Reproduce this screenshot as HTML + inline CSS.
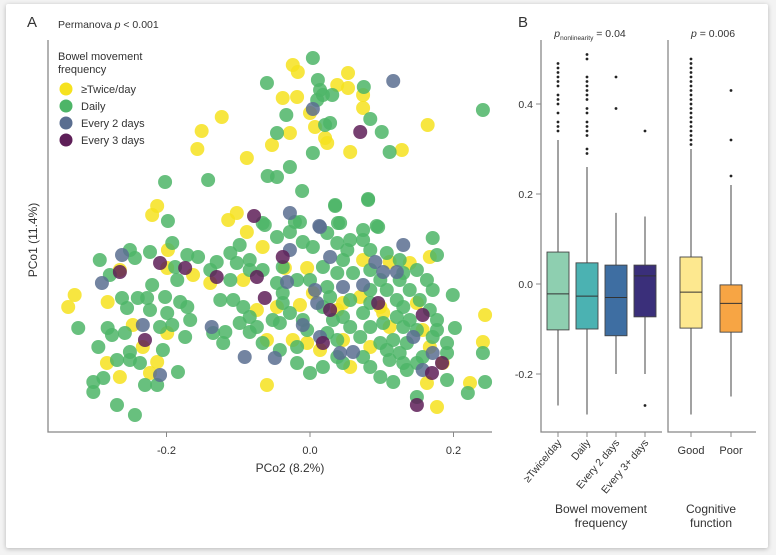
<!DOCTYPE html>
<html><head><meta charset="utf-8"><style>
html,body{margin:0;padding:0;background:#f3f3f3;}
#card{position:absolute;left:6px;top:4px;width:762px;height:544px;background:#fff;box-shadow:0 1px 5px rgba(0,0,0,0.25);border-radius:2px;}
svg{position:absolute;left:0;top:0;}
text{font-family:"Liberation Sans",sans-serif;fill:#333;}
</style></head><body>
<div id="card"></div>
<svg id="fig" width="776" height="555"></svg>
<script>
// ---------- Panel A data (PCo2, PCo1) ----------
const twiceX=[-0.024,-0.017,0.053,0.038,0.053,0.074,0.074,-0.038,-0.018,0,0.007,-0.028,0.021,0.024,-0.053,0.056,0.128,0.164,-0.123,-0.151,-0.157,-0.088,-0.213,-0.220,-0.114,-0.102,-0.088,-0.328,-0.337,-0.282,-0.265,-0.198,-0.163,-0.199,-0.139,-0.093,-0.066,-0.035,-0.004,-0.074,-0.046,-0.014,0.004,0.038,0.046,0.070,0.098,0.102,0.074,0.111,0.139,0.149,0.157,0.167,0.185,0.223,0.244,0.241,0.177,-0.060,-0.060,-0.004,0.014,0.046,0.056,0.084,0.111,0.163,-0.283,-0.265,-0.223,-0.213,-0.247,-0.199,-0.233,0.167,-0.024];
const twiceY=[0.225,0.218,0.217,0.205,0.202,0.195,0.182,0.192,0.193,0.177,0.163,0.157,0.152,0.147,0.145,0.138,0.140,0.165,0.173,0.159,0.141,0.132,0.084,0.075,0.070,0.077,0.058,-0.005,-0.017,-0.012,0.020,0.040,0.015,0.022,0.007,0.010,0.043,0.022,0.022,-0.020,-0.017,-0.015,-0.003,-0.020,-0.013,-0.007,-0.017,-0.023,0.030,0.028,0.027,-0.013,-0.040,-0.057,-0.073,-0.093,-0.025,-0.052,-0.117,-0.050,-0.095,-0.053,-0.060,-0.050,-0.077,-0.057,-0.037,-0.093,-0.073,-0.087,-0.083,-0.072,-0.035,-0.043,-0.057,0.033,-0.050];
const dailyX=[0.004,-0.060,0.011,0.014,0.018,0.031,0.075,0.010,-0.033,0.021,0.028,0.084,0.100,-0.046,0.004,0.111,-0.028,-0.059,-0.046,-0.011,-0.142,-0.202,0.081,0.035,-0.198,-0.063,-0.021,0.039,0.093,0.241,
0.035,0.081,-0.293,-0.251,-0.244,-0.223,-0.192,-0.171,-0.156,-0.188,-0.185,-0.279,-0.220,-0.262,-0.240,-0.227,-0.202,-0.181,-0.255,-0.223,-0.199,-0.171,-0.167,-0.323,-0.282,-0.276,-0.258,-0.209,-0.192,-0.174,-0.295,-0.251,-0.205,-0.269,-0.251,-0.237,-0.184,-0.302,-0.288,-0.302,-0.230,-0.213,-0.269,-0.244,
-0.130,-0.111,-0.098,-0.084,-0.066,-0.046,-0.028,-0.014,-0.010,0.004,0.024,0.042,0.038,0.052,0.074,0.095,0.084,0.107,0.125,0.149,0.171,0.177,0.199,0.171,0.163,0.139,0.125,0.121,0.098,0.084,0.060,0.038,0.024,0,-0.018,-0.038,-0.046,-0.066,-0.084,-0.102,-0.111,-0.125,-0.107,-0.093,-0.084,-0.038,-0.028,-0.052,-0.042,-0.010,0.028,0.032,0.046,0.056,0.074,0.084,0.102,0.121,0.130,0.130,0.139,0.149,0.177,0.177,0.202,0.191,0.191,0.135,0.125,0.111,0.130,0.149,0.098,0.116,0.135,0.191,0.149,0.220,0.241,0.244,-0.018,0,0.018,-0.018,-0.042,0.038,0.070,0.098,-0.135,-0.121,-0.098,-0.084,-0.118,0.074,0.084,0.046,0.024,-0.004,0.046,0.018,0.084,0.107,0.084,0.056,0.018,0.056,0.074,0.130,0.153,0.167,0.171,0.157,0.116,0.107,0.038,-0.066,-0.074,-0.038,-0.139];
const dailyY=[0.232,0.207,0.210,0.200,0.195,0.195,0.203,0.190,0.175,0.165,0.167,0.171,0.158,0.157,0.137,0.138,0.123,0.114,0.113,0.099,0.110,0.108,0.091,0.084,0.069,0.065,0.068,0.067,0.064,0.180,
0.085,0.090,0.030,0.040,0.032,0.038,0.047,0.035,0.033,0.023,0.010,0.015,0.005,-0.008,-0.008,-0.008,-0.007,-0.012,-0.018,-0.020,-0.023,-0.017,-0.030,-0.038,-0.038,-0.045,-0.043,-0.037,-0.035,-0.047,-0.057,-0.062,-0.060,-0.070,-0.070,-0.073,-0.082,-0.092,-0.088,-0.102,-0.095,-0.095,-0.115,-0.125,
0.028,0.037,0.045,0.030,0.067,0.053,0.058,0.068,0.048,0.043,0.057,0.067,0.047,0.040,0.050,0.063,0.040,0.037,0.030,0.020,0.052,0.035,-0.005,0.000,0.010,0.000,0.010,-0.010,0.010,0.000,0.017,0.017,0.003,0.010,0.010,-0.003,0.007,0.020,0.020,0.027,0.010,-0.010,-0.010,-0.017,-0.027,-0.013,-0.023,-0.030,-0.033,-0.030,-0.007,-0.030,-0.027,-0.037,-0.023,-0.037,-0.033,-0.027,-0.017,-0.037,-0.030,-0.040,-0.030,-0.040,-0.038,-0.053,-0.063,-0.053,-0.063,-0.070,-0.073,-0.073,-0.087,-0.092,-0.080,-0.090,-0.107,-0.103,-0.063,-0.092,-0.073,-0.083,-0.077,-0.057,-0.060,-0.050,-0.047,-0.053,-0.043,-0.053,-0.033,-0.042,-0.042,-0.067,-0.077,-0.073,-0.043,-0.040,0.030,0.023,0.020,0.000,-0.013,-0.010,-0.017,0.050,0.060,0.017,-0.010,-0.020,-0.047,-0.067,-0.050,-0.060,-0.067,-0.053,-0.037,0.023,0.020];
const every2X=[0.116,0.004,-0.028,0.013,0.014,-0.262,-0.290,0.130,0.102,0.091,0.028,-0.028,-0.032,0.007,0.010,0.046,0.074,-0.010,0.014,-0.137,-0.091,-0.049,0.042,0.060,0.144,-0.209,-0.233,0.157,0.121,0.171];
const every2Y=[0.209,0.181,0.077,0.064,0.063,0.035,0.007,0.045,0.018,0.028,0.033,0.040,0.008,0.000,-0.013,0.003,0.005,-0.035,-0.047,-0.037,-0.067,-0.068,-0.063,-0.062,-0.047,-0.085,-0.035,-0.080,0.018,-0.063];
const every3X=[0.070,-0.078,-0.209,-0.265,-0.174,-0.074,-0.038,-0.063,-0.130,-0.230,0.028,0.095,0.157,0.018,0.170,0.149,0.184];
const every3Y=[0.158,0.074,0.027,0.018,0.022,0.013,0.033,-0.008,0.013,-0.050,-0.020,-0.013,-0.025,-0.053,-0.083,-0.115,-0.073];
const xTicksA=[-0.2,0.0,0.2];
const xTickLabelsA=["-0.2","0.0","0.2"];

// ---------- Panel B data ----------
const bowelCats=["≥Twice/day","Daily","Every 2 days","Every 3+ days"];
const bowelQ1=[-0.102,-0.100,-0.115,-0.073];
const bowelMed=[-0.022,-0.027,-0.030,0.018];
const bowelQ3=[0.071,0.047,0.042,0.042];
const bowelLo=[-0.27,-0.29,-0.20,-0.20];
const bowelHi=[0.32,0.26,0.158,0.15];
const bowelOut=[[0.34,0.35,0.36,0.38,0.40,0.41,0.42,0.44,0.45,0.46,0.47,0.48,0.49],[0.29,0.30,0.33,0.34,0.35,0.36,0.38,0.39,0.41,0.42,0.43,0.44,0.45,0.46,0.50,0.51],[0.39,0.46],[0.34,-0.27]];
const cogCats=["Good","Poor"];
const cogQ1=[-0.098,-0.107];
const cogMed=[-0.018,-0.043];
const cogQ3=[0.060,-0.002];
const cogLo=[-0.29,-0.25];
const cogHi=[0.30,0.22];
const cogOut=[[0.31,0.32,0.33,0.34,0.35,0.36,0.37,0.38,0.39,0.40,0.41,0.42,0.43,0.44,0.45,0.46,0.47,0.48,0.49,0.50],[0.24,0.32,0.43]];
const yTicksB=[-0.2,0.0,0.2,0.4];
const yTickLabelsB=["-0.2","0.0","0.2","0.4"];

const NS="http://www.w3.org/2000/svg";
const svg=document.getElementById('fig');
function mk(tag,attrs,parent){const e=document.createElementNS(NS,tag);for(const k in attrs)e.setAttribute(k,attrs[k]);(parent||svg).appendChild(e);return e;}
function txt(s,attrs,parent){const e=mk('text',attrs,parent);e.textContent=s;return e;}

// scales
const xA=v=>310+v*717.5;
const yA=v=>290-v*1000;
const yB=v=>284-v*450;

// Panel A
txt("A",{x:27,y:27,'font-size':15});
const perm=txt("",{x:58,y:28,'font-size':10.5});
perm.innerHTML='Permanova <tspan font-style="italic">p</tspan> &lt; 0.001';


const axA=mk('path',{d:'M48,40 V432 H492',stroke:'#888','stroke-width':1.3,fill:'none'});


xTicksA.forEach((t,i)=>{
  const x=xA(t);
  mk('line',{x1:x,x2:x,y1:432,y2:437,stroke:'#888'});
  const l=txt(xTickLabelsA[i],{x:x,y:454,'text-anchor':'middle','font-size':11});
  
  
});
const xt=txt("PCo2 (8.2%)",{x:290,y:472,'text-anchor':'middle','font-size':12});


const yt=txt("PCo1 (11.4%)",{x:0,y:0,'text-anchor':'middle','font-size':12,transform:'translate(37,240) rotate(-90)'});



const groups=[[twiceX,twiceY,'#f6e21f','points-twice'],[dailyX,dailyY,'#4db567','points-daily'],[every2X,every2Y,'#5a6e90','points-every-2-days'],[every3X,every3Y,'#5e1f58','points-every-3-days']];
groups.forEach(g=>{
  const gg=mk('g',{});
  
  
  g[0].forEach((xv,i)=>{
    const c=mk('circle',{cx:xA(xv),cy:yA(g[1][i]),r:7,fill:g[2],'fill-opacity':0.85},gg);
    
    
  });
});

// legend
const lg=mk('g',{});


txt("Bowel movement",{x:58,y:60,'font-size':11},lg);
txt("frequency",{x:58,y:73,'font-size':11},lg);
const legItems=[["≥Twice/day",'#f6e21f'],["Daily",'#4db567'],["Every 2 days",'#5a6e90'],["Every 3 days",'#5e1f58']];
legItems.forEach((it,i)=>{
  const y=89+i*17;
  const e=mk('g',{},lg);
  
  
  mk('circle',{cx:66,cy:y,r:6.5,fill:it[1]},e);
  txt(it[0],{x:81,y:y+4,'font-size':11},e);
});

// Panel B
txt("B",{x:518,y:27,'font-size':15});
const pn=txt("",{x:590,y:37,'text-anchor':'middle','font-size':10.5});
pn.innerHTML='<tspan font-style="italic">p</tspan><tspan font-size="6.5" dy="3">nonlinearity</tspan><tspan dy="-3"> = 0.04</tspan>';


const pc=txt("",{x:713,y:37,'text-anchor':'middle','font-size':10.5});
pc.innerHTML='<tspan font-style="italic">p</tspan> = 0.006';



const axB=mk('path',{d:'M541,40 V432 H662 M668,40 V432 H756',stroke:'#888','stroke-width':1.3,fill:'none'});


yTicksB.forEach((t,i)=>{
  const y=yB(t);
  mk('line',{x1:536,x2:541,y1:y,y2:y,stroke:'#888'});
  const l=txt(yTickLabelsB[i],{x:533,y:y+4,'text-anchor':'end','font-size':10.5});
  
  
});

function drawBoxes(cats,q1,med,q3,lo,hi,out,centers,colors,rot){
  cats.forEach((c,i)=>{
    const cx=centers[i],w=22;
    const g=mk('g',{});
    
    
    mk('line',{x1:cx,x2:cx,y1:yB(hi[i]),y2:yB(q3[i]),stroke:'#444','stroke-width':1},g);
    mk('line',{x1:cx,x2:cx,y1:yB(q1[i]),y2:yB(lo[i]),stroke:'#444','stroke-width':1},g);
    mk('rect',{x:cx-w/2,y:yB(q3[i]),width:w,height:yB(q1[i])-yB(q3[i]),fill:colors[i],stroke:'#444','stroke-width':0.9},g);
    mk('line',{x1:cx-w/2,x2:cx+w/2,y1:yB(med[i]),y2:yB(med[i]),stroke:'#333','stroke-width':1},g);
    out[i].forEach(v=>mk('circle',{cx:cx,cy:yB(v),r:1.4,fill:'#222'},g));
    mk('line',{x1:cx,x2:cx,y1:432,y2:437,stroke:'#888'});
    let l;
    if(rot){l=txt(c,{x:0,y:0,'text-anchor':'end','font-size':10.5,transform:`translate(${cx+4},${443}) rotate(-50)`});}
    else{l=txt(c,{x:cx,y:454,'text-anchor':'middle','font-size':11});}
    
    
  });
}
drawBoxes(bowelCats,bowelQ1,bowelMed,bowelQ3,bowelLo,bowelHi,bowelOut,[558,587,616,645],['#8ecfb0','#4bb2b2','#3e6ea2','#3a2f7a'],true);
drawBoxes(cogCats,cogQ1,cogMed,cogQ3,cogLo,cogHi,cogOut,[691,731],['#fde88f','#f7a544'],false);

const bt=mk('g',{});


txt("Bowel movement",{x:601,y:513,'text-anchor':'middle','font-size':12},bt);
txt("frequency",{x:601,y:527,'text-anchor':'middle','font-size':12},bt);
const ct=mk('g',{});


txt("Cognitive",{x:711,y:513,'text-anchor':'middle','font-size':12},ct);
txt("function",{x:711,y:527,'text-anchor':'middle','font-size':12},ct);
</script>
</body></html>
